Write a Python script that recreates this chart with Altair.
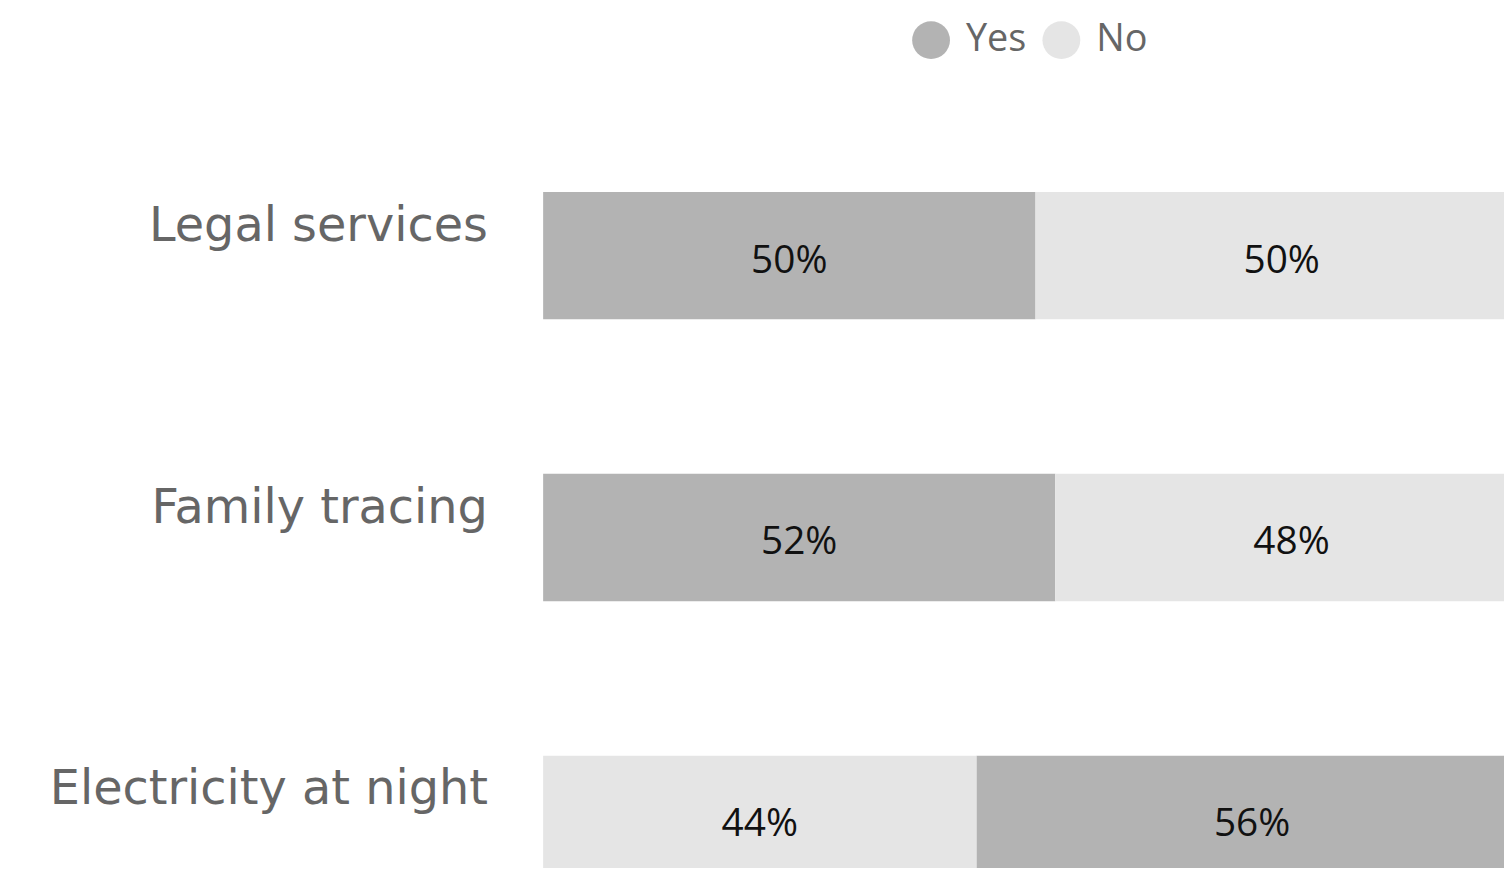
import altair as alt
import pandas as pd

categories = ["Legal services", "Family tracing", "Electricity at night"]
yes_values = [50, 52, 56]
no_values = [50, 48, 44]
first_segment = ["Yes", "Yes", "No"]
answers = ["Yes", "No"]
colors = ["#b3b3b3", "#e5e5e5"]

rows = []
for cat, yv, nv, first in zip(categories, yes_values, no_values, first_segment):
    for ans, val in (("Yes", yv), ("No", nv)):
        rows.append({
            "category": cat,
            "answer": ans,
            "value": val,
            "order": 0 if ans == first else 1,
            "label": f"{val}%",
        })
df = pd.DataFrame(rows)

base = alt.Chart(df).transform_stack(
    stack="value",
    as_=["x0", "x1"],
    groupby=["category"],
    sort=[alt.SortField("order", order="ascending")],
).transform_calculate(mid="(datum.x0 + datum.x1) / 2")

x_scale = alt.Scale(domain=[0, 100], range=[0, 990], nice=False)
y_scale = alt.Scale(paddingInner=0, paddingOuter=0, range=[0, 850])

y_enc = alt.Y(
    "category:N",
    sort=categories,
    scale=y_scale,
    axis=alt.Axis(
        title=None, ticks=False, domain=False, grid=False,
        labelFont="DejaVu Sans", labelFontSize=48, labelColor="#666666",
        labelPadding=56, labelOffset=-29, labelLimit=0,
    ),
)

bars = base.mark_bar(size=128).encode(
    x=alt.X("x0:Q", scale=x_scale, axis=None),
    x2="x1:Q",
    y=y_enc,
    color=alt.Color(
        "answer:N",
        scale=alt.Scale(domain=answers, range=colors),
        legend=alt.Legend(
            title=None, orient="none", direction="horizontal",
            legendX=371, legendY=-94,
            symbolType="circle", symbolSize=1444, symbolStrokeWidth=0,
            symbolOpacity=1,
            labelFont="Open Sans", labelFontSize=38, labelColor="#666666",
            labelOffset=16, columnPadding=16,
        ),
    ),
)

text = base.mark_text(
    font="Open Sans", fontSize=39, color="#111111", dy=5, baseline="middle"
).encode(
    x=alt.X("mid:Q", scale=x_scale),
    y=alt.Y("category:N", sort=categories, scale=y_scale),
    text="label:N",
)

chart = (
    alt.layer(bars, text)
    .properties(
        width=966,
        height=755,
        autosize=alt.AutoSizeParams(type="none"),
        padding={"left": 538, "top": 105, "right": 0, "bottom": 0},
    )
    .configure_view(stroke=None)
)

chart.save("out.html", embed_options={"renderer": "svg", "actions": False})
